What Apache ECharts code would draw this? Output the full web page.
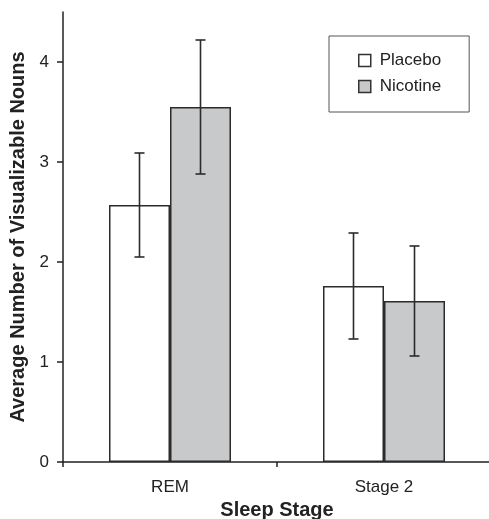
<!DOCTYPE html>
<html>
<head>
<meta charset="utf-8">
<script src="https://cdn.jsdelivr.net/npm/echarts@6/dist/echarts.min.js"></script>
<style>html,body{margin:0;padding:0;background:#fff}#c{width:489px;height:519px}</style>
</head>
<body>
<div id="c"></div>
<script>
var categories = ['REM', 'Stage 2'];
var placebo = [2.57, 1.76];
var nicotine = [3.55, 1.61];
var placeboErr = [0.52, 0.53];
var nicotineErr = [0.67, 0.55];
var yTicks = [0, 1, 2, 3, 4];

var FONT = '"Liberation Sans", Arial, Helvetica, sans-serif';
var BAR_W = 61;

function errData(vals, errs) {
  return vals.map(function (v, i) { return [i, v, errs[i]]; });
}
function errRender(offset) {
  return function (params, api) {
    var i = api.value(0), v = api.value(1), e = api.value(2);
    var top = api.coord([i, v + e]);
    var bot = api.coord([i, v - e]);
    var x = top[0] + offset;
    var cap = 5;
    var st = { stroke: '#2b2b2b', lineWidth: 1.6 };
    return {
      type: 'group',
      children: [
        { type: 'line', shape: { x1: x, y1: top[1], x2: x, y2: bot[1] }, style: st },
        { type: 'line', shape: { x1: x - cap, y1: top[1], x2: x + cap, y2: top[1] }, style: st },
        { type: 'line', shape: { x1: x - cap, y1: bot[1], x2: x + cap, y2: bot[1] }, style: st }
      ]
    };
  };
}

var chart = echarts.init(document.getElementById('c'), null, { renderer: 'canvas' });
chart.setOption({
  animation: false,
  backgroundColor: '#fff',
  textStyle: { fontFamily: FONT },
  grid: { left: 63, right: -2, top: 12, bottom: 57, containLabel: false, outerBoundsMode: 'none' },
  legend: {
    data: ['Placebo', 'Nicotine'],
    orient: 'vertical',
    left: 329,
    top: 36,
    padding: [16, 28, 17, 29],
    itemGap: 9,
    itemWidth: 12,
    itemHeight: 12,
    icon: 'rect',
    borderColor: '#555',
    borderWidth: 1,
    backgroundColor: '#fff',
    itemStyle: { borderColor: '#333', borderWidth: 1.5 },
    textStyle: { fontFamily: FONT, fontSize: 17, color: '#222', padding: [0, 0, 0, 4] }
  },
  xAxis: {
    type: 'category',
    data: categories,
    boundaryGap: true,
    name: 'Sleep Stage',
    nameLocation: 'middle',
    nameGap: 36,
    nameTextStyle: { fontFamily: FONT, fontSize: 20, fontWeight: 'bold', color: '#222' },
    axisLine: { lineStyle: { color: '#222', width: 1.5 } },
    axisTick: { show: true, length: 5, alignWithLabel: false, lineStyle: { color: '#222', width: 1.5 } },
    axisLabel: { fontFamily: FONT, fontSize: 17, color: '#222', margin: 17 }
  },
  yAxis: {
    type: 'value',
    min: 0,
    max: 4.5,
    interval: 1,
    name: 'Average Number of Visualizable Nouns',
    nameLocation: 'middle',
    nameGap: 33,
    nameTextStyle: { fontFamily: FONT, fontSize: 20, fontWeight: 'bold', color: '#222' },
    splitLine: { show: false },
    axisLine: { show: true, lineStyle: { color: '#222', width: 1.5 } },
    axisTick: { show: true, length: 6, customValues: yTicks, lineStyle: { color: '#222', width: 1.5 } },
    axisLabel: { fontFamily: FONT, fontSize: 17, color: '#222', margin: 14, customValues: yTicks }
  },
  series: [
    {
      name: 'Placebo', type: 'bar', data: placebo, barWidth: BAR_W, barGap: '0%',
      itemStyle: { color: '#ffffff', borderColor: '#2b2b2b', borderWidth: 1.5 }
    },
    {
      name: 'Nicotine', type: 'bar', data: nicotine, barWidth: BAR_W, barGap: '0%',
      itemStyle: { color: '#c8c9cb', borderColor: '#2b2b2b', borderWidth: 1.5 }
    },
    {
      name: 'Placebo SE', type: 'custom', data: errData(placebo, placeboErr),
      renderItem: errRender(-BAR_W / 2), z: 5, silent: true
    },
    {
      name: 'Nicotine SE', type: 'custom', data: errData(nicotine, nicotineErr),
      renderItem: errRender(BAR_W / 2), z: 5, silent: true
    }
  ]
});
</script>
</body>
</html>
